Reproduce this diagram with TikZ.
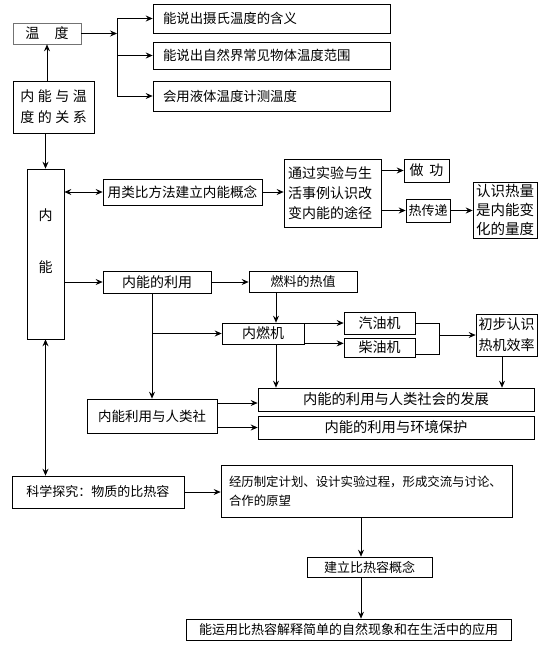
\documentclass[tikz,border=0pt]{standalone}
\usepackage{fontspec}
\setmainfont{Noto Sans CJK SC}
\usetikzlibrary{arrows.meta}
\begin{document}
\begin{tikzpicture}[x=1pt,y=-1pt,
  bx/.style={draw=black, line width=0.7pt, inner sep=0pt, font=\fontsize{13}{16}\selectfont},
  lbl/.style={inner sep=0pt, font=\fontsize{14}{16}\selectfont},
  arr/.style={-{Stealth[length=7pt,width=6pt,inset=2.5pt]}, line width=0.7pt},
  darr/.style={{Stealth[length=7pt,width=6pt,inset=2.5pt]}-{Stealth[length=7pt,width=6pt,inset=2.5pt]}, line width=0.7pt},
  ln/.style={line width=0.7pt}]
\fill[white] (0,0) rectangle (553,648);
\useasboundingbox (0,0) rectangle (553,648);

% top group
\node[bx, draw=black!55, minimum width=68pt, minimum height=21pt, font=\fontsize{14}{16}\selectfont] (wendu) at (47,33.5) {温\hspace{1.1em}度};
\node[bx, minimum width=237pt, minimum height=29pt, inner xsep=10pt, text width=217pt, align=left, font=\fontsize{13.4}{16}\selectfont] (A) at (271.5,18.5) {能说出摄氏温度的含义};
\node[bx, minimum width=237pt, minimum height=27pt, inner xsep=10pt, text width=217pt, align=left, font=\fontsize{13.4}{16}\selectfont] (B) at (271.5,55.5) {能说出自然界常见物体温度范围};
\node[bx, minimum width=237pt, minimum height=30pt, inner xsep=10pt, text width=217pt, align=left, font=\fontsize{13.4}{16}\selectfont] (C) at (271.5,96) {会用液体温度计测温度};
\node[bx, minimum width=81pt, minimum height=52pt, align=center, font=\fontsize{14}{21}\selectfont] (rel) at (53.5,107) {内\hspace{3.5pt}能\hspace{3.5pt}与\hspace{3.5pt}温\\度\hspace{3.5pt}的\hspace{3.5pt}关\hspace{3.5pt}系};

% main column
\node[bx, minimum width=37pt, minimum height=170pt] (neineng) at (45.5,254) {};
\node[lbl] (nei) at (45.5,215) {内};
\node[lbl] (neng) at (45.5,267) {能};

\node[bx, minimum width=159pt, minimum height=26pt, font=\fontsize{13.6}{16}\selectfont] (lbf) at (182.5,192) {用类比方法建立内能概念};
\node[bx, minimum width=97pt, minimum height=68pt, inner xsep=4pt, text width=89pt, align=left, font=\fontsize{14}{20}\selectfont] (tg) at (332.5,193) {通过实验与生\\活事例认识改\\变内能的途径};
\node[bx, minimum width=45pt, minimum height=23pt, font=\fontsize{14}{16}\selectfont] (zg) at (426.5,170.5) {做\hspace{0.4em}功};
\node[bx, minimum width=44pt, minimum height=23pt] (rcd) at (428,210.5) {热传递};
\node[bx, minimum width=64pt, minimum height=56pt, align=center, font=\fontsize{14.5}{19}\selectfont] (rs) at (505,210) {认识热量\\是内能变\\化的量度};

\node[bx, minimum width=108pt, minimum height=22pt, font=\fontsize{14}{16}\selectfont] (ly) at (157,282) {内能的利用};
\node[bx, minimum width=108pt, minimum height=21pt] (rl) at (303,281.5) {燃料的热值};
\node[bx, minimum width=82pt, minimum height=21pt, font=\fontsize{14}{16}\selectfont] (nrj) at (263,333.5) {内燃机};
\node[bx, minimum width=71pt, minimum height=22pt, font=\fontsize{14}{16}\selectfont] (qy) at (379.5,323) {汽油机};
\node[bx, minimum width=71pt, minimum height=19pt, font=\fontsize{14}{16}\selectfont] (cy) at (379.5,347.5) {柴油机};
\node[bx, minimum width=61pt, minimum height=42pt, align=center, font=\fontsize{14}{21}\selectfont] (xl) at (506.5,335) {初步认识\\热机效率};
\node[bx, minimum width=276pt, minimum height=23pt, font=\fontsize{14.3}{16}\selectfont] (fz) at (396,399.5) {内能的利用与人类社会的发展};
\node[bx, minimum width=276pt, minimum height=23pt, font=\fontsize{14.3}{16}\selectfont] (hb) at (396,427.5) {内能的利用与环境保护};
\node[bx, minimum width=130pt, minimum height=34pt, font=\fontsize{13.5}{16}\selectfont] (rlsh) at (152,416) {内能利用与人类社};

% bottom group
\node[bx, minimum width=172pt, minimum height=32pt] (kx) at (98,492) {科学探究：物质的比热容};
\node[bx, minimum width=291pt, minimum height=52pt, inner xsep=8pt, text width=275pt, align=left, font=\fontsize{12.4}{19}\selectfont] (jl) at (366.5,491) {经历制定计划、设计实验过程，形成交流与讨论、\\合作的原望};
\node[bx, minimum width=125pt, minimum height=20pt] (jlc) at (369.5,567) {建立比热容概念};
\node[bx, minimum width=325pt, minimum height=21pt] (yy) at (348.5,629.5) {能运用比热容解释简单的自然现象和在生活中的应用};

% helper coordinates
\coordinate (j1) at (117,33.5);
\coordinate (c1) at (276,0);
\coordinate (j2) at (439,335);
\coordinate (c4) at (361,0);

% connectors top
\draw[arr] (wendu.east) -- (j1);
\draw[ln] (j1 |- A) -- (j1 |- C);
\draw[arr] (j1 |- A) -- (A.west);
\draw[arr] (j1 |- B) -- (B.west);
\draw[arr] (j1 |- C) -- (C.west);
\draw[arr] (wendu.south |- rel.north) -- (wendu.south);
\draw[arr] (rel.south -| neineng) -- (neineng.north);

% connectors middle
\draw[darr] (neineng.east |- lbf) -- (lbf.west);
\draw[arr] (lbf.east) -- (lbf.east -| tg.west);
\draw[arr] (tg.east |- zg) -- (zg.west);
\draw[arr] (tg.east |- rcd) -- (rcd.west);
\draw[arr] (rcd.east) -- (rcd.east -| rs.west);
\draw[arr] (neineng.east |- ly) -- (ly.west);
\draw[arr] (ly.east) -- (ly.east -| rl.west);
\draw[arr] (rl.south -| c1) -- (nrj.north -| c1);
\draw[arr] (ly.south -| rlsh) -- (rlsh.north);
\draw[arr] (rlsh.north |- nrj) -- (nrj.west);
\draw[arr] (nrj.east |- qy) -- (qy.west);
\draw[arr] ([yshift=1pt]nrj.south east) -- ([yshift=1pt]nrj.south east -| cy.west);
\draw[ln] (qy.east) -- (qy.east -| j2) -- ([yshift=-6.5pt]cy.east -| j2) -- ([yshift=-6.5pt]cy.east);
\draw[arr] (j2) -- (xl.west);
\draw[arr] (xl.south -| 502,0) -- (fz.north -| 502,0);
\draw[arr] (nrj.south -| c1) -- (fz.north -| c1);
\draw[arr] ([yshift=13pt]rlsh.east) -- ([yshift=13pt]rlsh.east -| fz.west);
\draw[arr] (rlsh.east |- hb) -- (hb.west);

% connectors bottom
\draw[darr] (neineng.south) -- (kx.north -| neineng.south);
\draw[arr] (kx.east) -- (kx.east -| jl.west);
\draw[arr] (jl.south -| c4) -- (jlc.north -| c4);
\draw[arr] (jlc.south -| c4) -- (yy.north -| c4);
\end{tikzpicture}
\end{document}
